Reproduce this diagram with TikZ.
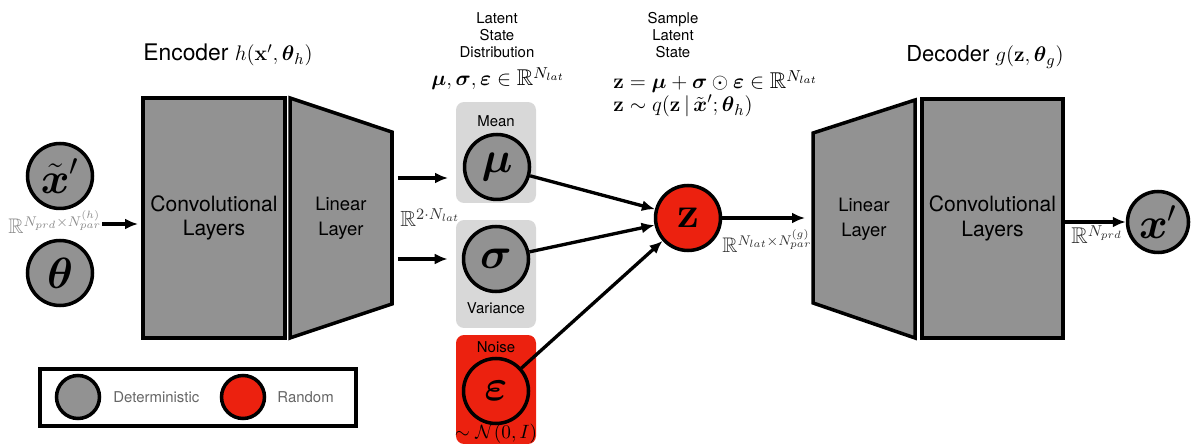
\documentclass[tikz,border=0pt]{standalone}
\usepackage{amsmath,amssymb}
\usepackage[no-math]{fontspec}
\setmainfont{TeX Gyre Heros}
\usepackage{xcolor}
\usetikzlibrary{shapes,arrows.meta,positioning,calc}

\definecolor{layergrey}{RGB}{146,146,146}
\definecolor{boxgrey}{RGB}{216,216,216}
\definecolor{randred}{RGB}{236,33,15}

\begin{document}
\begin{tikzpicture}[x=0.02cm, y=-0.02cm, node distance=0.2cm,
    layer/.style={draw, line width=2pt, fill=layergrey, align=center, font=\fontsize{12}{14}\selectfont},
    layerframe/.style={minimum width=2.04cm, inner sep=0pt, outer sep=0pt},
    layertext/.style={align=center, font=\fontsize{10.5}{14}\selectfont},
    unit/.style={circle, draw, line width=2pt, fill=layergrey, minimum size=1.3cm, inner sep=0pt, font=\fontsize{24}{24}\selectfont},
    unit_rand/.style={unit, fill=randred},
    dist/.style={rectangle, rounded corners=0.16cm, fill=boxgrey, minimum width=1.6cm},
    small/.style={font=\fontsize{8.5}{9.8}\selectfont, align=center},
    dim/.style={font=\fontsize{12}{14}\selectfont, text=black!80, anchor=base west, inner sep=0pt},
    line/.style={draw, -{Latex[length=0.26cm, width=0.22cm]}, line width=1.9pt}]

    \useasboundingbox (0,0) rectangle (1195,445);

    % inputs
    \node [unit] (xin) at (60,176) {$\tilde{\boldsymbol{x}}'$};
    \node [unit] (theta) at (60,273) {$\boldsymbol{\theta}$};
    \node [dim, text=black!45] (indim) at (8,234) {$\mathbb{R}^{N_{prd}\times N_{par}^{(h)}}$};
    \coordinate (inarrow) at (138,224);

    % encoder
    \node [font=\fontsize{13}{15}\selectfont] (enctitle) at (228,55) {Encoder $h(\mathbf{x}',\boldsymbol{\theta}_h)$};
    \node [layer, minimum width=2.84cm, minimum height=4.8cm] (encconv) at (214,218) {Convolutional\\Layers};
    \node [layerframe, minimum height=4.8cm] (enclinbox) at (341,218) {};
    \draw [layer] (enclinbox.north west) -- ($(enclinbox.north east)+(0,34)$) -- ($(enclinbox.south east)+(0,-34)$) -- (enclinbox.south west) -- cycle;
    \node [layertext] (enclin) at (enclinbox) {Linear\\Layer};
    \node [dim, font=\fontsize{12.5}{14}\selectfont] (latdim) at (400,227) {$\mathbb{R}^{2\cdot N_{lat}}$};

    % latent state distribution
    \node [small] (distlabel) at (497,35) {Latent\\State\\Distribution};
    \node [font=\fontsize{13}{15}\selectfont, anchor=base] (distmath) at (498,86) {$\boldsymbol{\mu},\boldsymbol{\sigma},\boldsymbol{\varepsilon}\in\mathbb{R}^{N_{lat}}$};

    \node [dist, minimum height=2.02cm] (meanbox) at (496,152.5) {};
    \node [small] (meanlabel) at (496,121) {Mean};
    \node [unit] (mu) at (497,167) {$\boldsymbol{\mu}$};
    \coordinate (meanin) at (456,178);

    \node [dist, minimum height=2.16cm] (varbox) at (496,274) {};
    \node [unit] (sigma) at (496,259) {$\boldsymbol{\sigma}$};
    \node [small] (varlabel) at (496,308) {Variance};

    \node [dist, fill=randred, minimum height=2.18cm] (noisebox) at (496,389.5) {};
    \node [small] (noiselabel) at (496,347) {Noise};
    \node [unit_rand] (eps) at (496,391) {$\boldsymbol{\varepsilon}$};
    \node [font=\fontsize{11}{12}\selectfont] (noisedist) at (496,434) {$\sim\mathcal{N}(0,I)$};

    % sampled latent state
    \node [small] (samplelabel) at (673,35) {Sample\\Latent\\State};
    \node [font=\fontsize{13}{15}\selectfont, anchor=base west, inner sep=0pt] (zsum) at (613,89) {$\mathbf{z}=\boldsymbol{\mu}+\boldsymbol{\sigma}\odot\boldsymbol{\varepsilon}\in\mathbb{R}^{N_{lat}}$};
    \node [font=\fontsize{13}{15}\selectfont, anchor=base west, inner sep=0pt] (zdist) at (613,112) {$\mathbf{z}\sim q(\mathbf{z}\,|\,\tilde{\boldsymbol{x}}';\boldsymbol{\theta}_h)$};
    \node [unit_rand] (z) at (688,218) {$\mathbf{z}$};
    \node [dim] (zdim) at (722,253) {$\mathbb{R}^{N_{lat}\times N_{par}^{(g)}}$};

    % decoder
    \node [font=\fontsize{12.5}{14}\selectfont] (dectitle) at (985,57) {Decoder $g(\mathbf{z},\boldsymbol{\theta}_g)$};
    \node [layerframe, minimum height=4.76cm] (declinbox) at (864,219) {};
    \draw [layer] (declinbox.north east) -- (declinbox.south east) -- ($(declinbox.south west)+(0,-35)$) -- ($(declinbox.north west)+(0,33)$) -- cycle;
    \node [layertext] (declin) at (declinbox) {Linear\\Layer};
    \node [layer, minimum width=2.82cm, minimum height=4.78cm] (decconv) at (992.5,218.5) {Convolutional\\Layers};
    \node [unit, minimum size=1.22cm] (xout) at (1158,222) {$\boldsymbol{x}'$};
    \node [dim, font=\fontsize{13}{15}\selectfont] (outdim) at (1071,244) {$\mathbb{R}^{N_{prd}}$};

    % legend
    \node [draw, line width=1.8pt, minimum width=6.32cm, minimum height=1.14cm] (legend) at (198,397.5) {};
    \node [unit, minimum size=0.86cm] (legdet) at (78,397) {};
    \node [small, text=black!60, right=0.12cm of legdet] (legdettext) {Deterministic};
    \node [unit_rand, minimum size=0.86cm] (legrand) at (243,397) {};
    \node [small, text=black!60, right=0.1cm of legrand] (legrandtext) {Random};

    \path [line] (indim.east |- inarrow) -- (inarrow);
    \path [line, shorten <=0.12cm, shorten >=0.16cm] (enclinbox.east |- meanin) -- (meanin);
    \path [line, shorten <=0.12cm, shorten >=0.16cm] (enclinbox.east |- sigma) -- (varbox.west |- sigma);
    \path [line] (mu) -- (z);
    \path [line] (sigma) -- (z);
    \path [line] (eps) -- (z);
    \path [line, shorten >=0.16cm] (z) -- (declinbox.west |- z);
    \path [line] (decconv.east |- xout) -- (xout);
\end{tikzpicture}
\end{document}
